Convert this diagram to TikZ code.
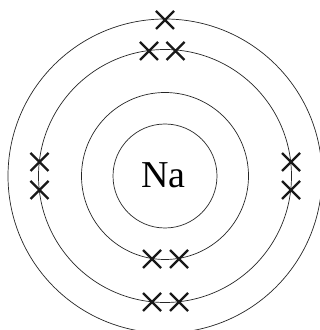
\documentclass[tikz,border=0pt]{standalone}
\usepackage{fontspec}
\setmainfont{Liberation Serif}
\usetikzlibrary{shapes.misc}
\begin{document}
\begin{tikzpicture}[
  x=1pt, y=1pt,
  shell/.style={draw=black!85, line width=0.7pt},
  electron/.style={cross out, draw=black!90, line width=2.4pt,
                   minimum size=18pt, inner sep=0pt, outer sep=0pt},
  nucleus/.style={font=\fontsize{38}{38}\selectfont, inner sep=0pt}
]
\useasboundingbox (0,0) rectangle (320,330);
\clip (0,0) rectangle (320,330);
\fill[white] (0,0) rectangle (320,330);
% shells around the nucleus
\foreach \r in {52,83.5,126.5,157}
  \draw[shell] (165,154) circle (\r);
\node[nucleus] (na) at (163.5,155) {Na};
% outer shell
\node[electron] (outertop) at (165,310) {};
% second shell, clockwise from the top
\node[electron] (topl) at (149,279) {};
\node[electron] (topr) at (175.5,279) {};
\node[electron] (rightu) at (291,168) {};
\node[electron] (rightd) at (291,140) {};
\node[electron] (botr) at (179,28) {};
\node[electron] (botl) at (152,28) {};
\node[electron] (leftd) at (39.5,140) {};
\node[electron] (leftu) at (39.5,168) {};
% inner shell
\node[electron] (innerl) at (152,71) {};
\node[electron] (innerr) at (179,71) {};
\end{tikzpicture}
\end{document}
